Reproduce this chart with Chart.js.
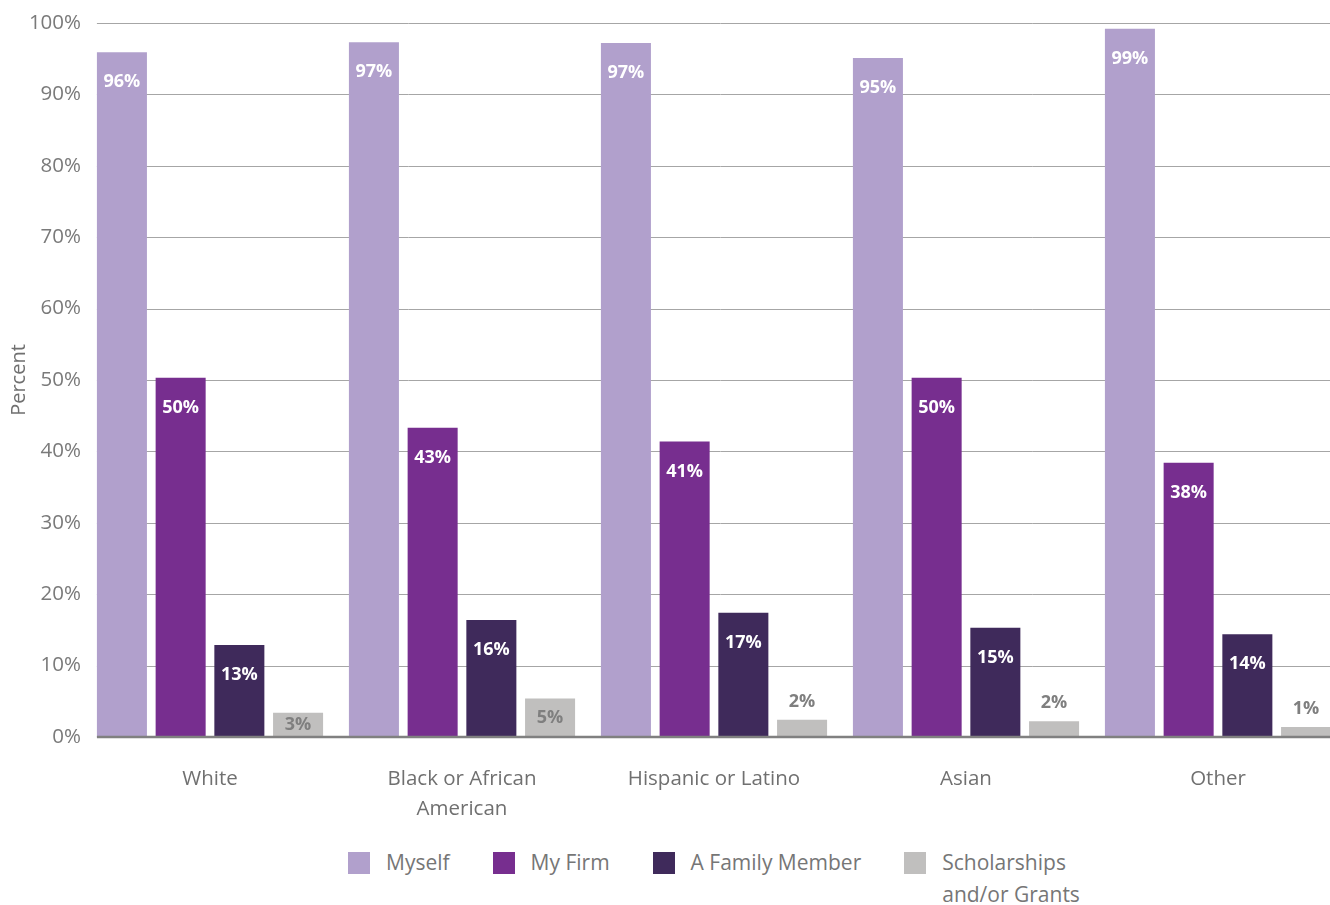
<!DOCTYPE html>
<html>
<head>
<meta charset="utf-8">
<script src="https://cdn.jsdelivr.net/npm/chart.js@4"></script>
<style>
  body { margin: 0; background: #fff; font-family: 'Open Sans', sans-serif; }
  #wrap { position: relative; width: 1330px; height: 905px; overflow: hidden; }
  #box { position: absolute; left: 0; top: 0; width: 1344px; height: 840px; }
  #legend { position: absolute; left: 348px; top: 848px; display: flex; align-items: flex-start; }
  .item { display: flex; align-items: flex-start; margin-right: 43px; }
  .swatch { width: 22px; height: 22px; margin-top: 4px; margin-right: 16px; }
  .label { font-size: 21px; line-height: 32px; color: #767676; margin-top: -2px; }
</style>
</head>
<body>
<div id="wrap">
  <div id="box"><canvas id="myChart" width="1344" height="840"></canvas></div>
  <div id="legend"></div>
</div>
<script>
const categories = ['White', ['Black or African', 'American'], 'Hispanic or Latino', 'Asian', 'Other'];
const seriesNames = ['Myself', 'My Firm', 'A Family Member', ['Scholarships', 'and/or Grants']];
const seriesColors = ['#b1a0cc', '#772e8f', '#3f2a5b', '#c0bfbe'];
const labelColors = ['#ffffff', '#ffffff', '#ffffff', '#7f7f7f'];

// percent values
const myself = [95.9, 97.3, 97.2, 95.1, 99.2];
const myFirm = [50.3, 43.3, 41.4, 50.3, 38.4];
const familyMember = [12.9, 16.4, 17.4, 15.3, 14.4];
const scholarships = [3.4, 5.4, 2.4, 2.2, 1.4];

const yMin = 0, yMax = 100, yStep = 10;

const seriesValues = [myself, myFirm, familyMember, scholarships];

// grid lines start at the first bar, like the original
const gridPlugin = {
    id: 'grid',
    beforeDatasetsDraw(chart) {
        const { ctx, chartArea, scales } = chart;
        const first = chart.getDatasetMeta(0).data[0];
        const left = first.x - first.width / 2;
        ctx.save();
        ctx.strokeStyle = '#a6a6a6';
        ctx.lineWidth = 1;
        scales.y.ticks.forEach(t => {
            if (t.value === 0) return;
            const y = Math.round(scales.y.getPixelForValue(t.value)) + 0.5;
            ctx.beginPath();
            ctx.moveTo(left, y);
            ctx.lineTo(chartArea.right, y);
            ctx.stroke();
        });
        ctx.restore();
    },
    afterDatasetsDraw(chart) {
        const { ctx, chartArea, scales } = chart;
        const first = chart.getDatasetMeta(0).data[0];
        const left = first.x - first.width / 2;
        const y = scales.y.getPixelForValue(0);
        ctx.save();
        ctx.strokeStyle = '#808080';
        ctx.lineWidth = 2.5;
        ctx.beginPath();
        ctx.moveTo(left, y);
        ctx.lineTo(chartArea.right, y);
        ctx.stroke();

        // value labels
        ctx.font = 'bold 18px "Open Sans"';
        ctx.textAlign = 'center';
        ctx.textBaseline = 'middle';
        chart.data.datasets.forEach((ds, i) => {
            chart.getDatasetMeta(i).data.forEach((bar, j) => {
                const h = bar.base - bar.y;
                let ly;
                if (h > 50) ly = bar.y + 30;
                else if (h >= 20) ly = (bar.y + bar.base) / 2;
                else ly = bar.y - 18;
                ctx.fillStyle = labelColors[i];
                ctx.fillText(Math.round(ds.data[j]) + '%', bar.x, ly);
            });
        });
        ctx.restore();
    }
};

const chartCanvas = document.getElementById('myChart').getContext('2d');
const myChart = new Chart(chartCanvas, {
    type: 'bar',
    data: {
        labels: categories,
        datasets: seriesValues.map((vals, i) => ({
            label: [].concat(seriesNames[i]).join(' '),
            data: vals,
            backgroundColor: seriesColors[i],
            categoryPercentage: 0.932,
            barPercentage: 0.852
        }))
    },
    options: {
        responsive: false,
        animation: false,
        layout: { padding: { top: 23, left: 0, right: 0, bottom: 0 } },
        plugins: {
            legend: { display: false },
            tooltip: { enabled: false }
        },
        scales: {
            x: {
                grid: { display: false, drawTicks: false },
                border: { display: false },
                ticks: {
                    padding: 28,
                    color: '#707070',
                    font: { family: 'Open Sans', size: 20.5, lineHeight: 1.42 },
                    maxRotation: 0
                },
                afterFit(scale) { scale.height = 103; }
            },
            y: {
                min: yMin,
                max: yMax,
                grid: { display: false, drawTicks: false },
                border: { display: false },
                ticks: {
                    stepSize: yStep,
                    padding: 3,
                    color: '#7a7a7a',
                    font: { family: 'Open Sans', size: 20.5 },
                    callback: v => v + '%'
                },
                title: {
                    display: true,
                    text: 'Percent',
                    color: '#707070',
                    font: { family: 'Open Sans', size: 20 },
                    padding: { top: 7, bottom: 0 }
                },
                afterFit(scale) { scale.width = 84; }
            }
        }
    },
    plugins: [gridPlugin]
});

// legend
const legend = document.getElementById('legend');
seriesNames.forEach((name, i) => {
    const item = document.createElement('div');
    item.className = 'item';
    item.innerHTML = `<div class="swatch" style="background:${seriesColors[i]}"></div>
        <div class="label">${[].concat(name).join('<br>')}</div>`;
    legend.appendChild(item);
});
</script>
</body>
</html>
